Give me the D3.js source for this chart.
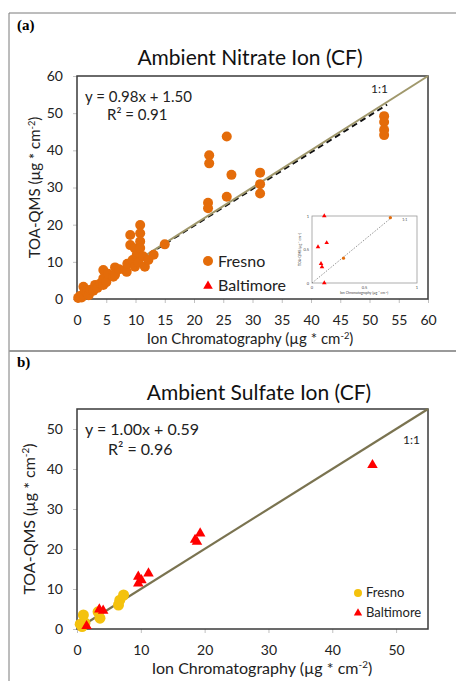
<!DOCTYPE html>
<html>
<head>
<meta charset="utf-8">
<script src="https://cdn.jsdelivr.net/npm/d3@7"></script>
<style>
  body { margin: 0; background: #fff; }
  svg { display: block; }
</style>
</head>
<body>
<div id="chart"></div>
<script>
// ---- data ----
const nitrateFresno = [
  [0.2,0.3],[0.5,0.8],[0.8,0.4],[1,1.2],[1.1,3.3],[1.4,2.2],[1.7,1.6],[2,1],[2.3,2.5],
  [2.8,2.2],[3.1,3.8],[3.5,3],[4,4.2],[4.5,3.8],[4.5,5.6],[4.5,7.8],[5,4.5],[5.3,6.8],
  [6.2,6],[6.5,8.5],[6.5,6.5],[7.2,8],[8.2,7.8],[8.5,7.3],[8.6,9.5],[9.1,17.2],[9.1,14.5],
  [9.5,10.5],[9.9,13.6],[9.9,8.7],[10.2,11.3],[10.2,11.8],[10.5,12.5],[10.8,19.9],[10.8,17.7],
  [10.8,15.5],[10.8,13.7],[10.5,9.8],[11.3,11.5],[11.6,8.7],[12.2,10.5],[13.1,11.9],[15,14.7],
  [22.4,25.9],[22.4,24.4],[22.6,38.7],[22.6,36.5],[25.6,43.7],[25.6,27.5],[26.4,33.4],
  [31.3,34],[31.3,30.9],[31.3,28.4],[52.5,49.2],[52.5,47.6],[52.5,45.5],[52.5,44.1]
];
const nitrateDashed = [[5,4.9],[53,52.3]];
const insetBaltimore = [[0.117,1.0],[0.14,0.6],[0.057,0.54],[0.086,0.29],[0.095,0.24],[0.117,0.0]];
const insetFresno = [[0.3,0.37],[0.746,0.975]];
const insetDotted = [[0,0],[0.76,0.98]];

const sulfateFresno = [
  [1.0,3.5],[0.5,1.2],[1.25,1.5],[0.8,0.6],[3.3,4.3],[3.6,2.7],[6.7,7.2],[7.3,8.5],[6.5,6]
];
const sulfateBaltimore = [
  [1.5,0.75],[3.5,4.9],[4.1,4.6],[9.6,13.1],[9.6,11.4],[10.1,12.2],[11.2,13.9],
  [18.5,22.3],[18.8,21.8],[19.3,23.9],[46.3,41]
];

const nitrateTicks = d3.range(0, 61, 5);
const nitrateYTicks = d3.range(0, 61, 10);
const sulfateTicks = d3.range(0, 51, 10);

const W = 456, H = 681;
const font = "Lato, 'Open Sans', sans-serif";

const svg = d3.select("#chart").append("svg").attr("width", W).attr("height", H);

// panel frames
svg.append("line").attr("x1", 9).attr("x2", W).attr("y1", 13).attr("y2", 13).attr("stroke", "#7a7a7a");
svg.append("line").attr("x1", 9).attr("x2", 9).attr("y1", 13).attr("y2", H).attr("stroke", "#7a7a7a");
svg.append("line").attr("x1", 9).attr("x2", W).attr("y1", 351).attr("y2", 351).attr("stroke", "#9a9a9a").attr("stroke-width", 2);

svg.append("text").attr("x", 17).attr("y", 30).attr("font-family", "'Liberation Serif', serif")
  .attr("font-weight", "bold").attr("font-size", "15px").text("(a)");
svg.append("text").attr("x", 17).attr("y", 367).attr("font-family", "'Liberation Serif', serif")
  .attr("font-weight", "bold").attr("font-size", "15px").text("b)");

function unitLabel(sel, prefix) {
  sel.append("tspan").text(prefix + " (µg * cm");
  sel.append("tspan").attr("baseline-shift", "super").attr("font-size", "0.62em").text("-2");
  sel.append("tspan").text(")");
}

function frame(g, x, y, xTicks, yTicks) {
  const xa = g.append("g").attr("transform", `translate(0,${y.range()[0]})`)
    .call(d3.axisBottom(x).tickValues(xTicks).tickSize(4).tickPadding(12));
  const ya = g.append("g").attr("transform", `translate(${x.range()[0]},0)`)
    .call(d3.axisLeft(y).tickValues(yTicks).tickSize(4).tickPadding(10));
  [xa, ya].forEach(a => {
    a.select(".domain").remove();
    a.selectAll("line").attr("stroke", "#c0c0c0");
    a.selectAll("text").attr("font-family", font).attr("font-size", "14px").attr("fill", "#222");
  });
  g.append("rect")
    .attr("x", x.range()[0]).attr("y", y.range()[1])
    .attr("width", x.range()[1] - x.range()[0]).attr("height", y.range()[0] - y.range()[1])
    .attr("fill", "none").attr("stroke", "#3a3a3a").attr("stroke-width", 1.5);
}

// ---------- panel (a): nitrate ----------
{
  const g = svg.append("g");
  const x = d3.scaleLinear().domain([0, 60]).range([77, 428]);
  const y = d3.scaleLinear().domain([0, 60]).range([299, 76]);

  frame(g, x, y, nitrateTicks, nitrateYTicks);

  g.append("text").attr("x", 250).attr("y", 65).attr("text-anchor", "middle")
    .attr("font-family", font).attr("font-size", "21px").attr("fill", "#111")
    .text("Ambient Nitrate Ion (CF)");

  const line = d3.line().x(d => x(d[0])).y(d => y(d[1]));

  g.append("path").attr("d", line(nitrateDashed)).attr("fill", "none")
    .attr("stroke", "#111").attr("stroke-width", 2).attr("stroke-dasharray", "6,4");
  g.append("path").attr("d", line([[0, 0], [60, 60]])).attr("fill", "none")
    .attr("stroke", "#a0986c").attr("stroke-width", 2);

  g.append("g").selectAll("circle").data(nitrateFresno).join("circle")
    .attr("cx", d => x(d[0])).attr("cy", d => y(d[1])).attr("r", 5)
    .attr("fill", "#e46c0a");

  g.append("text").attr("x", 85).attr("y", 102).attr("font-family", font).attr("font-size", "15px")
    .attr("fill", "#222").text("y = 0.98x + 1.50");
  g.append("text").attr("x", 107).attr("y", 120).attr("font-family", font).attr("font-size", "15px")
    .attr("fill", "#222").text("R² = 0.91");
  g.append("text").attr("x", 371).attr("y", 93).attr("font-family", font).attr("font-size", "12px")
    .attr("fill", "#222").text("1:1");

  // legend
  g.append("circle").attr("cx", 208).attr("cy", 261).attr("r", 5).attr("fill", "#e46c0a");
  g.append("text").attr("x", 218).attr("y", 267).attr("font-family", font).attr("font-size", "16px")
    .attr("fill", "#222").text("Fresno");
  g.append("path").attr("d", d3.symbol(d3.symbolTriangle, 40)()).attr("transform", "translate(208,286)")
    .attr("fill", "#ff0000");
  g.append("text").attr("x", 218).attr("y", 291).attr("font-family", font).attr("font-size", "16px")
    .attr("fill", "#222").text("Baltimore");

  g.append("text").attr("x", 250).attr("y", 344).attr("text-anchor", "middle")
    .attr("font-family", font).attr("font-size", "15px").attr("fill", "#222")
    .call(s => unitLabel(s, "Ion Chromatography"));
  g.append("text").attr("transform", `translate(40,${y(30)}) rotate(-90)`).attr("text-anchor", "middle")
    .attr("font-family", font).attr("font-size", "15px").attr("fill", "#222")
    .call(s => unitLabel(s, "TOA-QMS"));

  // inset
  const ix = d3.scaleLinear().domain([0, 1]).range([312, 417]);
  const iy = d3.scaleLinear().domain([0, 1]).range([283, 216]);
  const ig = g.append("g");
  ig.append("rect").attr("x", 305).attr("y", 211).attr("width", 116).attr("height", 83).attr("fill", "#fff");
  ig.append("rect").attr("x", 312).attr("y", 216).attr("width", 105).attr("height", 67)
    .attr("fill", "none").attr("stroke", "#9a9a9a").attr("stroke-width", 0.8);
  ig.append("path").attr("d", d3.line().x(d => ix(d[0])).y(d => iy(d[1]))(insetDotted))
    .attr("fill", "none").attr("stroke", "#777").attr("stroke-width", 0.8).attr("stroke-dasharray", "1.5,1.5");
  ig.selectAll(".it").data([0, 0.5, 1]).join("text")
    .attr("x", d => ix(d)).attr("y", 289).attr("text-anchor", "middle")
    .attr("font-family", font).attr("font-size", "4px").attr("fill", "#444").text(d => d);
  ig.selectAll(".iy").data([0, 0.5, 1]).join("text")
    .attr("x", 309).attr("y", d => iy(d) + 1.5).attr("text-anchor", "end")
    .attr("font-family", font).attr("font-size", "4px").attr("fill", "#444").text(d => d);
  ig.append("text").attr("x", 364).attr("y", 294).attr("text-anchor", "middle")
    .attr("font-family", font).attr("font-size", "3.5px").attr("fill", "#444")
    .call(s => unitLabel(s, "Ion Chromatography"));
  ig.append("text").attr("transform", `translate(301,${iy(0.5)}) rotate(-90)`).attr("text-anchor", "middle")
    .attr("font-family", font).attr("font-size", "3.5px").attr("fill", "#444")
    .call(s => unitLabel(s, "TOA-QMS"));
  ig.append("text").attr("x", ix(0.86)).attr("y", iy(0.93)).attr("font-family", font)
    .attr("font-size", "3.5px").attr("fill", "#444").text("1:1");
  ig.selectAll(".ic").data(insetFresno).join("circle")
    .attr("cx", d => ix(d[0])).attr("cy", d => iy(d[1])).attr("r", 1.6).attr("fill", "#e46c0a");
  ig.selectAll(".itr").data(insetBaltimore).join("path")
    .attr("d", d3.symbol(d3.symbolTriangle, 9)())
    .attr("transform", d => `translate(${ix(d[0])},${iy(d[1])})`).attr("fill", "#ff0000");
}

// ---------- panel (b): sulfate ----------
{
  const g = svg.append("g");
  const x = d3.scaleLinear().domain([0, 55]).range([77, 428]);
  const y = d3.scaleLinear().domain([0, 55]).range([629, 409]);

  frame(g, x, y, sulfateTicks, sulfateTicks);

  g.append("text").attr("x", 259).attr("y", 400).attr("text-anchor", "middle")
    .attr("font-family", font).attr("font-size", "21px").attr("fill", "#111")
    .text("Ambient Sulfate Ion (CF)");

  const line = d3.line().x(d => x(d[0])).y(d => y(d[1]));
  g.append("path").attr("d", line([[0, 0], [55, 55]])).attr("fill", "none")
    .attr("stroke", "#7a7350").attr("stroke-width", 2.2);

  g.append("g").selectAll("circle").data(sulfateFresno).join("circle")
    .attr("cx", d => x(d[0])).attr("cy", d => y(d[1])).attr("r", 5.5)
    .attr("fill", "#f4c20d");
  g.append("g").selectAll("path").data(sulfateBaltimore).join("path")
    .attr("d", d3.symbol(d3.symbolTriangle, 48)())
    .attr("transform", d => `translate(${x(d[0])},${y(d[1])})`).attr("fill", "#ff0000");

  g.append("text").attr("x", 85).attr("y", 435).attr("font-family", font).attr("font-size", "16px")
    .attr("fill", "#222").text("y = 1.00x + 0.59");
  g.append("text").attr("x", 108).attr("y", 455).attr("font-family", font).attr("font-size", "16px")
    .attr("fill", "#222").text("R² = 0.96");
  g.append("text").attr("x", 403).attr("y", 444).attr("font-family", font).attr("font-size", "12px")
    .attr("fill", "#222").text("1:1");

  g.append("circle").attr("cx", 358).attr("cy", 593).attr("r", 4).attr("fill", "#f4c20d");
  g.append("text").attr("x", 366).attr("y", 597).attr("font-family", font).attr("font-size", "13px")
    .attr("fill", "#222").text("Fresno");
  g.append("path").attr("d", d3.symbol(d3.symbolTriangle, 30)()).attr("transform", "translate(358,613)")
    .attr("fill", "#ff0000");
  g.append("text").attr("x", 366).attr("y", 617).attr("font-family", font).attr("font-size", "13px")
    .attr("fill", "#222").text("Baltimore");

  g.append("text").attr("x", 262).attr("y", 674).attr("text-anchor", "middle")
    .attr("font-family", font).attr("font-size", "16px").attr("fill", "#222")
    .call(s => unitLabel(s, "Ion Chromatography"));
  g.append("text").attr("transform", `translate(35,${y(27.5)}) rotate(-90)`).attr("text-anchor", "middle")
    .attr("font-family", font).attr("font-size", "16px").attr("fill", "#222")
    .call(s => unitLabel(s, "TOA-QMS"));
}
</script>
</body>
</html>
